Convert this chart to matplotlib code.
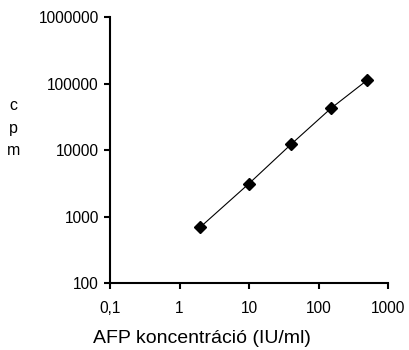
import matplotlib
matplotlib.use('Agg')
import matplotlib.pyplot as plt
from matplotlib.ticker import FixedLocator, FixedFormatter, NullLocator

plt.rcParams['font.family'] = ['Liberation Sans', 'DejaVu Sans']

# data
konc = [2, 10, 40, 150, 500]            # AFP koncentráció (IU/ml)
cpm = [700, 3150, 12200, 42400, 113000]  # cpm
xticks = [0.1, 1, 10, 100, 1000]
xticklabels = ['0,1', '1', '10', '100', '1000']
yticks = [100, 1000, 10000, 100000, 1000000]
yticklabels = ['100', '1000', '10000', '100000', '1000000']

fig = plt.figure(figsize=(4.09, 3.5), dpi=100)
ax = fig.add_axes([0.269, 0.191, 0.68, 0.76])
ax.plot(konc, cpm, color='black', lw=0.8, marker='D', markersize=6.5)
ax.set_xscale('log')
ax.set_yscale('log')
ax.set_xlim(0.1, 1000)
ax.set_ylim(100, 1000000)

ax.xaxis.set_major_locator(FixedLocator(xticks))
ax.xaxis.set_major_formatter(FixedFormatter(xticklabels))
ax.xaxis.set_minor_locator(NullLocator())
ax.yaxis.set_major_locator(FixedLocator(yticks))
ax.yaxis.set_major_formatter(FixedFormatter(yticklabels))
ax.yaxis.set_minor_locator(NullLocator())

for s in ['top', 'right']:
    ax.spines[s].set_visible(False)
for s in ['left', 'bottom']:
    ax.spines[s].set_linewidth(1.5)
ax.tick_params(direction='out', length=4, width=1.5, labelsize=11.2, pad=9)
ax.tick_params(axis='y', pad=4)

# x label sits left of the axes centre in the reference
fig.text(0.493, 0.02, 'AFP koncentráció (IU/ml)', fontsize=14, ha='center', va='baseline')
fig.text(0.032, 0.634, 'c\np\nm', fontsize=11.5, ha='center', va='center', linespacing=1.65)

fig.savefig('out.png', dpi=100)
